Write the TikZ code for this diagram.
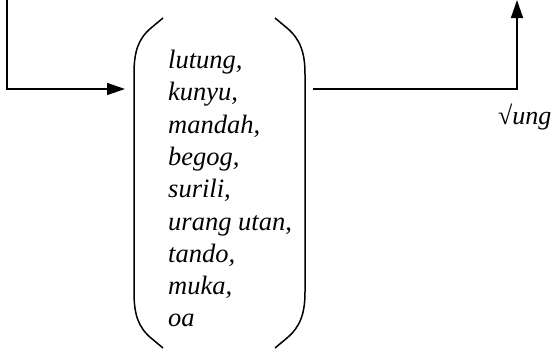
\documentclass[tikz,border=0pt]{standalone}
\usepackage{fontspec}
\setmainfont{Liberation Serif}
\usetikzlibrary{arrows.meta}
\begin{document}
\begin{tikzpicture}[x=1pt,y=-1pt,
  conn/.style={line width=1.5pt,line cap=butt},
  arr/.style={conn,-{Triangle[length=18pt,width=12pt]}},
  brk/.style={line width=1.5pt},
  words/.style={font=\fontsize{26.5}{32.3}\selectfont\itshape,align=left,inner sep=0pt,anchor=north west},
  lbl/.style={font=\fontsize{26}{30}\selectfont\itshape,inner sep=0pt,anchor=base west}]
\useasboundingbox (0,0) rectangle (552,349);
% invisible frame for the bracketed list
\node[minimum width=184pt,minimum height=330pt,inner sep=0pt,anchor=north west] (list) at (126,18) {};
\node[words] (items) at (168,50) {lutung,\\kunyu,\\mandah,\\begog,\\surili,\\urang utan,\\tando,\\muka,\\oa};
% brackets
\draw[brk] (163,18) -- (151,28) .. controls (138,39) and (134,52) .. (134,74)
  -- (134,292) .. controls (134,314) and (138,327) .. (151,338) -- (163,348);
\draw[brk] (275,18) -- (287,28) .. controls (300,39) and (305,52) .. (305,74)
  -- (305,292) .. controls (305,314) and (300,327) .. (287,338) -- (275,348);
% connectors
\coordinate (s) at (7,0);
\coordinate (c1) at (7,89);
\coordinate (c2) at (517,89);
\coordinate (t) at (517,0);
\draw[arr] (s) -- (c1) -- ([xshift=-1pt]c1 -| list.west);
\draw[arr] ([xshift=3pt]c1 -| list.east) -- (c2) -- (t);
\node[lbl] (root) at (498,124) {√ung};
\end{tikzpicture}
\end{document}
